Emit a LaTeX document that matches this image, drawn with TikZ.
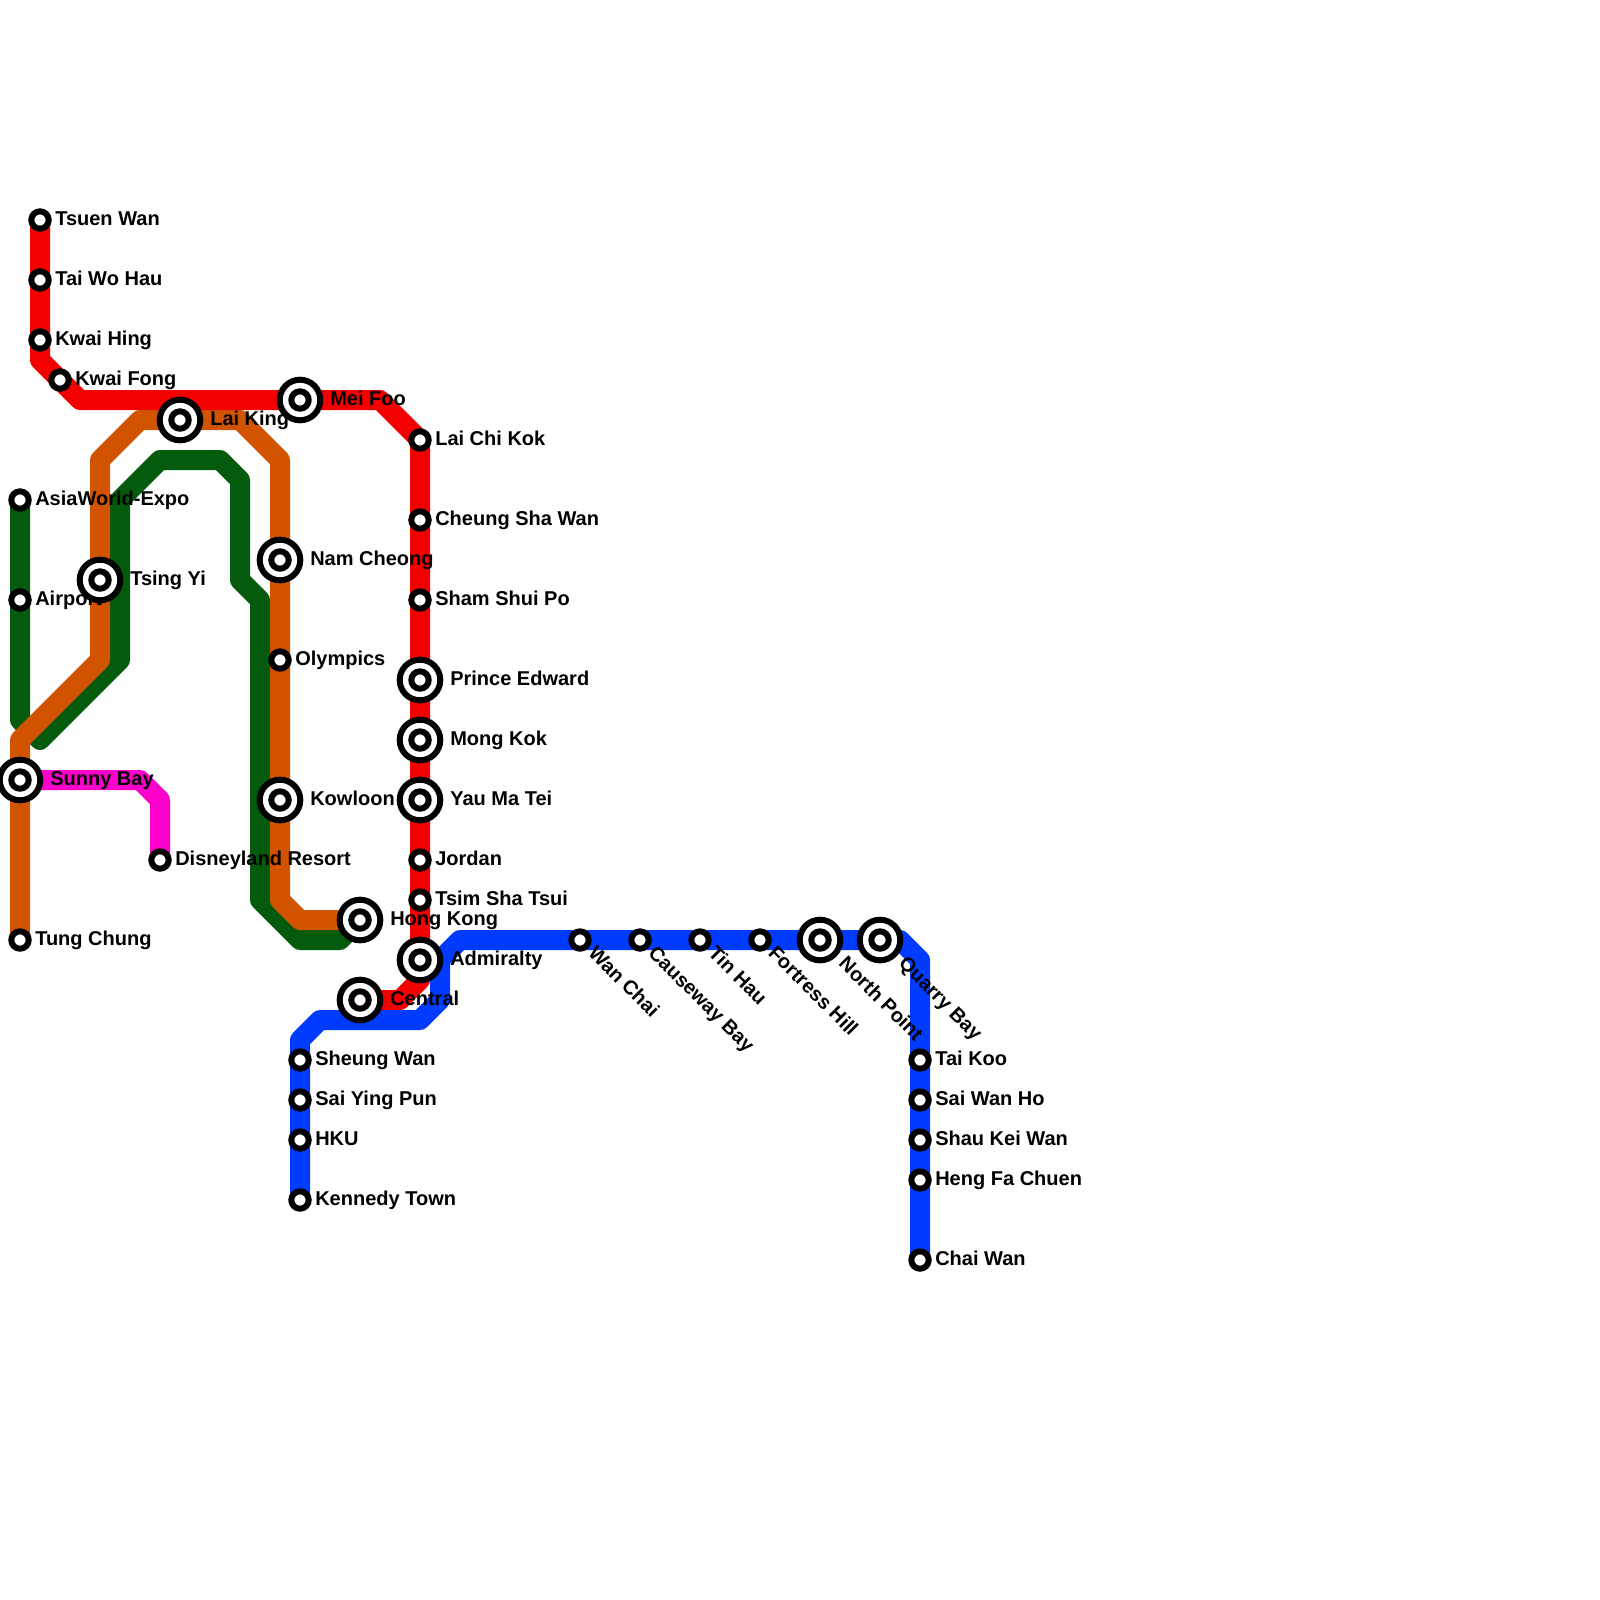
\documentclass[tikz,border=0pt]{standalone}
\usepackage{fontspec}
\setmainfont{Liberation Sans}
\usetikzlibrary{positioning}
\usetikzlibrary{backgrounds}
\definecolor{redln}{HTML}{F40000}
\definecolor{orangeln}{HTML}{D35400}
\definecolor{greenln}{HTML}{045A0D}
\definecolor{blueln}{HTML}{003BFF}
\definecolor{pinkln}{HTML}{FF00CC}
\tikzset{
	stn/.style={circle,draw=black,fill=white,line width=0.15cm,inner sep=0pt,outer sep=0pt,minimum size=0.435cm},
	hubring/.style={stn,minimum size=1.015cm},
	ln/.style={line width=0.5cm,line cap=round,line join=round},
	lbl/.style={font=\fontsize{14.23}{16}\selectfont\bfseries,inner sep=0pt,yshift=-0.125cm,node distance=0.1575cm},
	hublbl/.style={lbl,node distance=0.2425cm},
	slantlbl/.style={font=\fontsize{14.23}{16}\selectfont\bfseries,inner sep=0pt,rotate=-45,anchor=base west,xshift=0.375cm,yshift=-0.125cm},
	hubslantlbl/.style={slantlbl,xshift=0.375cm}
}
\newcommand{\hubstn}[2]{\node[hubring] (#1) at (#2) {}; \node[stn] (#1dot) at (#1) {};}
\begin{document}
\begin{tikzpicture}[x=0.5cm,y=-0.5cm]
	\useasboundingbox (0,0) rectangle (80,80);
	\node[stn] (tsuenwan) at (2,11) {};
	\node[stn] (taiwohau) at (2,14) {};
	\node[stn] (kwaihing) at (2,17) {};
	\node[stn] (kwaifong) at (3,19) {};
	\hubstn{meifoo}{15,20}
	\node[stn] (laichikok) at (21,22) {};
	\node[stn] (cheungsha) at (21,26) {};
	\node[stn] (shamshui) at (21,30) {};
	\hubstn{prince}{21,34}
	\hubstn{mongkok}{21,37}
	\hubstn{yaumatei}{21,40}
	\node[stn] (jordan) at (21,43) {};
	\node[stn] (tsimsha) at (21,45) {};
	\hubstn{admiralty}{21,48}
	\hubstn{central}{18,50}
	\node[stn] (asiaworld) at (1,25) {};
	\node[stn] (airport) at (1,30) {};
	\hubstn{tsingyi}{5,29}
	\hubstn{laiking}{9,21}
	\hubstn{namcheong}{14,28}
	\node[stn] (olympics) at (14,33) {};
	\hubstn{kowloon}{14,40}
	\hubstn{hongkong}{18,46}
	\hubstn{sunnybay}{1,39}
	\node[stn] (tungchung) at (1,47) {};
	\node[stn] (disney) at (8,43) {};
	\node[stn] (kennedy) at (15,60) {};
	\node[stn] (hku) at (15,57) {};
	\node[stn] (saiying) at (15,55) {};
	\node[stn] (sheungwan) at (15,53) {};
	\node[stn] (wanchai) at (29,47) {};
	\node[stn] (causeway) at (32,47) {};
	\node[stn] (tinhau) at (35,47) {};
	\node[stn] (fortress) at (38,47) {};
	\hubstn{northpoint}{41,47}
	\hubstn{quarrybay}{44,47}
	\node[stn] (taikoo) at (46,53) {};
	\node[stn] (saiwan) at (46,55) {};
	\node[stn] (shaukei) at (46,57) {};
	\node[stn] (hengfa) at (46,59) {};
	\node[stn] (chaiwan) at (46,63) {};

	\coordinate (redA) at (2,18);
	\coordinate (redB) at (4,20);
	\coordinate (redC) at (19,20);
	\coordinate (redD) at (21,49);
	\coordinate (redE) at (20,50);
	\coordinate (greenA) at (1,36);
	\coordinate (greenB) at (2,37);
	\coordinate (greenC) at (6,33);
	\coordinate (greenD) at (6,25);
	\coordinate (greenE) at (8,23);
	\coordinate (greenF) at (11,23);
	\coordinate (greenG) at (12,24);
	\coordinate (greenH) at (12,29);
	\coordinate (greenI) at (13,30);
	\coordinate (greenJ) at (13,45);
	\coordinate (greenK) at (15,47);
	\coordinate (greenL) at (17,47);
	\coordinate (orangeA) at (1,37);
	\coordinate (orangeB) at (5,33);
	\coordinate (orangeC) at (5,23);
	\coordinate (orangeD) at (7,21);
	\coordinate (orangeE) at (12,21);
	\coordinate (orangeF) at (14,23);
	\coordinate (orangeG) at (14,45);
	\coordinate (orangeH) at (15,46);
	\coordinate (pinkA) at (7,39);
	\coordinate (pinkB) at (8,40);
	\coordinate (blueA) at (15,52);
	\coordinate (blueB) at (16,51);
	\coordinate (blueC) at (21,51);
	\coordinate (blueD) at (22,50);
	\coordinate (blueE) at (22,48);
	\coordinate (blueF) at (23,47);
	\coordinate (blueG) at (45,47);
	\coordinate (blueH) at (46,48);

	\begin{scope}[on background layer]
		\draw [ln,greenln] (asiaworld.center) -- (airport.center) -- (greenA) -- (greenB) -- (greenC) -- (greenD) -- (greenE) -- (greenF) -- (greenG) -- (greenH) -- (greenI) -- (greenJ) -- (greenK) -- (greenL) -- (hongkong.center);
		\draw [ln,orangeln] (tungchung.center) -- (sunnybay.center) -- (orangeA) -- (orangeB) -- (tsingyi.center) -- (orangeC) -- (orangeD) -- (laiking.center) -- (orangeE) -- (orangeF) -- (namcheong.center) -- (olympics.center) -- (kowloon.center) -- (orangeG) -- (orangeH) -- (hongkong.center);
		\draw [ln,pinkln] (sunnybay.center) -- (pinkA) -- (pinkB) -- (disney.center);
		\draw [ln,redln] (tsuenwan.center) -- (taiwohau.center) -- (kwaihing.center) -- (redA) -- (redB) -- (meifoo.center) -- (redC) -- (laichikok.center) -- (cheungsha.center) -- (shamshui.center) -- (prince.center) -- (mongkok.center) -- (yaumatei.center) -- (jordan.center) -- (tsimsha.center) -- (admiralty.center) -- (redD) -- (redE) -- (central.center);
		\draw [ln,blueln] (kennedy.center) -- (hku.center) -- (saiying.center) -- (sheungwan.center) -- (blueA) -- (blueB) -- (blueC) -- (blueD) -- (blueE) -- (blueF) -- (wanchai.center) -- (causeway.center) -- (tinhau.center) -- (fortress.center) -- (northpoint.center) -- (quarrybay.center) -- (blueG) -- (blueH) -- (taikoo.center) -- (saiwan.center) -- (shaukei.center) -- (hengfa.center) -- (chaiwan.center);

		\node[lbl,base right=of tsuenwan] (tsuenwanlbl) {Tsuen Wan};
		\node[lbl,base right=of taiwohau] (taiwohaulbl) {Tai Wo Hau};
		\node[lbl,base right=of kwaihing] (kwaihinglbl) {Kwai Hing};
		\node[lbl,base right=of kwaifong] (kwaifonglbl) {Kwai Fong};
		\node[hublbl,base right=of meifoo] (meifoolbl) {Mei Foo};
		\node[lbl,base right=of laichikok] (laichikoklbl) {Lai Chi Kok};
		\node[lbl,base right=of cheungsha] (cheungshalbl) {Cheung Sha Wan};
		\node[lbl,base right=of shamshui] (shamshuilbl) {Sham Shui Po};
		\node[hublbl,base right=of prince] (princelbl) {Prince Edward};
		\node[hublbl,base right=of mongkok] (mongkoklbl) {Mong Kok};
		\node[hublbl,base right=of yaumatei] (yaumateilbl) {Yau Ma Tei};
		\node[lbl,base right=of jordan] (jordanlbl) {Jordan};
		\node[lbl,base right=of tsimsha] (tsimshalbl) {Tsim Sha Tsui};
		\node[hublbl,base right=of admiralty] (admiraltylbl) {Admiralty};
		\node[hublbl,base right=of central] (centrallbl) {Central};
		\node[lbl,base right=of asiaworld] (asiaworldlbl) {AsiaWorld-Expo};
		\node[lbl,base right=of airport] (airportlbl) {Airport};
		\node[hublbl,base right=of tsingyi] (tsingyilbl) {Tsing Yi};
		\node[hublbl,base right=of laiking] (laikinglbl) {Lai King};
		\node[hublbl,base right=of namcheong] (namcheonglbl) {Nam Cheong};
		\node[lbl,base right=of olympics] (olympicslbl) {Olympics};
		\node[hublbl,base right=of kowloon] (kowloonlbl) {Kowloon};
		\node[hublbl,base right=of hongkong] (hongkonglbl) {Hong Kong};
		\node[hublbl,base right=of sunnybay] (sunnybaylbl) {Sunny Bay};
		\node[lbl,base right=of tungchung] (tungchunglbl) {Tung Chung};
		\node[lbl,base right=of disney] (disneylbl) {Disneyland Resort};
		\node[lbl,base right=of kennedy] (kennedylbl) {Kennedy Town};
		\node[lbl,base right=of hku] (hkulbl) {HKU};
		\node[lbl,base right=of saiying] (saiyinglbl) {Sai Ying Pun};
		\node[lbl,base right=of sheungwan] (sheungwanlbl) {Sheung Wan};
		\node[slantlbl] (wanchailbl) at (wanchai) {Wan Chai};
		\node[slantlbl] (causewaylbl) at (causeway) {Causeway Bay};
		\node[slantlbl] (tinhaulbl) at (tinhau) {Tin Hau};
		\node[slantlbl] (fortresslbl) at (fortress) {Fortress Hill};
		\node[hubslantlbl] (northpointlbl) at (northpoint) {North Point};
		\node[hubslantlbl] (quarrybaylbl) at (quarrybay) {Quarry Bay};
		\node[lbl,base right=of taikoo] (taikoolbl) {Tai Koo};
		\node[lbl,base right=of saiwan] (saiwanlbl) {Sai Wan Ho};
		\node[lbl,base right=of shaukei] (shaukeilbl) {Shau Kei Wan};
		\node[lbl,base right=of hengfa] (hengfalbl) {Heng Fa Chuen};
		\node[lbl,base right=of chaiwan] (chaiwanlbl) {Chai Wan};
	\end{scope}
\end{tikzpicture}
\end{document}
